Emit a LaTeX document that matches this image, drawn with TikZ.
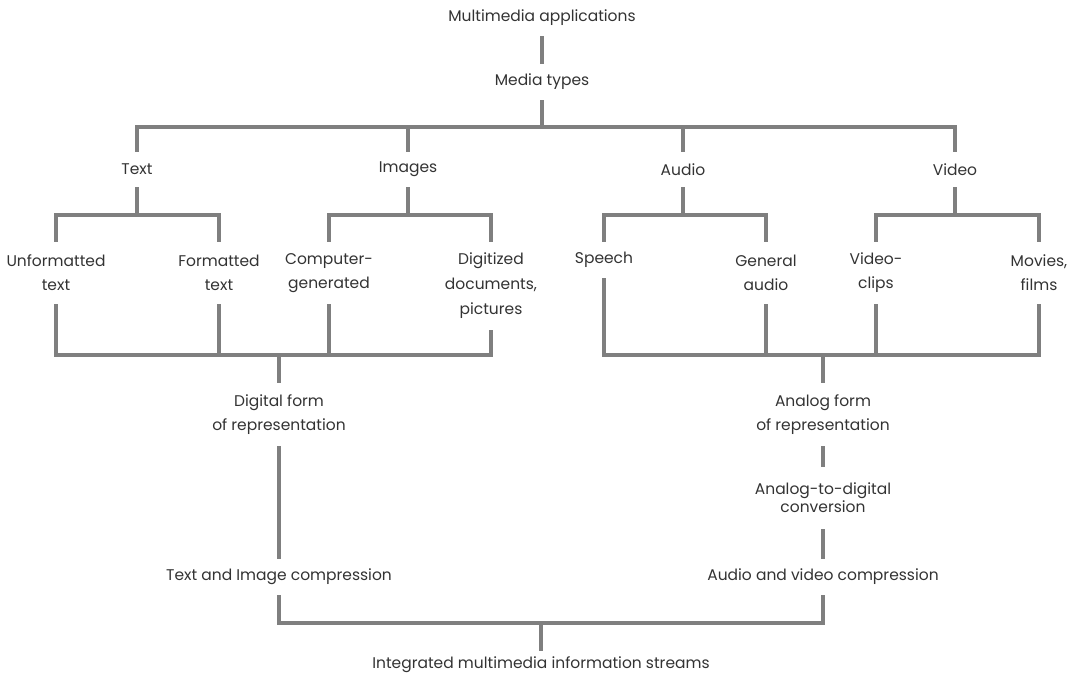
\documentclass[tikz,border=0pt]{standalone}
\usepackage{fontspec}
\setmainfont{Poppins}
\definecolor{ink}{HTML}{333333}
\definecolor{wire}{HTML}{7F7F7F}
\newcommand{\lblfont}[1]{\fontsize{15.5}{#1}\selectfont}
\tikzset{
  lbl/.style={font=\lblfont{19}, text=ink, align=center, inner sep=0pt},
  one/.style={lbl, minimum height=35pt},
  two/.style={lbl, minimum height=62pt, font=\lblfont{24}},
  conn/.style={draw=wire, line width=3.8pt, line join=miter}
}
\begin{document}
\begin{tikzpicture}[x=1pt, y=-1pt]
\useasboundingbox (0,0) rectangle (1074,673);

% top of the hierarchy
\node[lbl, minimum height=36pt] (app) at (542,18) {Multimedia applications};
\node[lbl, minimum height=36pt] (types) at (542,82) {Media types};

% media types
\node[one] (text)   at (137,169.5) {Text};
\node[one] (images) at (408,169.5) {Images};
\node[one] (audio)  at (683,169.5) {Audio};
\node[one] (video)  at (955,169.5) {Video};

% leaves
\node[two] (unf)  at (56,273)  {Unformatted\\text};
\node[two] (fmt)  at (219,273) {Formatted\\text};
\node[two] (cgen) at (329,273) {Computer-\\generated};
\node[lbl, minimum height=88pt, font=\lblfont{25}] (digi) at (491,286) {Digitized\\documents,\\pictures};
\node[lbl, minimum height=36pt] (speech) at (604,260) {Speech};
\node[two] (gaud)  at (766,273)  {General\\audio};
\node[two] (clips) at (876,273)  {Video-\\clips};
\node[two] (movie) at (1039,273) {Movies,\\films};

% representation and processing
\node[lbl, minimum height=63pt, font=\lblfont{24}] (digital) at (279,414.5) {Digital form\\of representation};
\node[lbl, minimum height=63pt, font=\lblfont{24}] (analog)  at (823,414.5) {Analog form\\of representation};
\node[lbl, minimum height=62pt, font=\lblfont{18}] (adc) at (823,498) {Analog-to-digital\\conversion};
\node[lbl, minimum height=36pt] (tcomp) at (279,577) {Text and Image compression};
\node[lbl, minimum height=36pt] (acomp) at (823,577) {Audio and video compression};
\node[lbl, minimum height=28pt] (integ) at (541,665) {Integrated multimedia information streams};

% junctions of the bars
\coordinate (jTop)   at (542,127);
\coordinate (jText)  at (137,215);
\coordinate (jImg)   at (408,215);
\coordinate (jAud)   at (683,215);
\coordinate (jVid)   at (955,215);
\coordinate (jDig)   at (279,355);
\coordinate (jAna)   at (823,355);
\coordinate (jBot)   at (541,623);

% connectors
\draw[conn] (app) -- (types);
\draw[conn] (types) -- (jTop);
\foreach \n in {text,images,audio,video} \draw[conn] (jTop) -| (\n);

\draw[conn] (text) -- (jText);
\draw[conn] (jText) -| (unf);
\draw[conn] (jText) -| (fmt);
\draw[conn] (images) -- (jImg);
\draw[conn] (jImg) -| (cgen);
\draw[conn] (jImg) -| (digi);
\draw[conn] (audio) -- (jAud);
\draw[conn] (jAud) -| (speech);
\draw[conn] (jAud) -| (gaud);
\draw[conn] (video) -- (jVid);
\draw[conn] (jVid) -| (clips);
\draw[conn] (jVid) -| (movie);

\foreach \n in {unf,fmt,cgen,digi} \draw[conn] (\n) |- (jDig);
\foreach \n in {speech,gaud,clips,movie} \draw[conn] (\n) |- (jAna);
\draw[conn] (jDig) -- (digital);
\draw[conn] (jAna) -- (analog);

\draw[conn] (digital) -- (tcomp);
\draw[conn] (analog) -- (adc);
\draw[conn] (adc) -- (acomp);
\draw[conn] (tcomp) |- (jBot);
\draw[conn] (acomp) |- (jBot);
\draw[conn] (jBot) -- (integ);
\end{tikzpicture}
\end{document}
